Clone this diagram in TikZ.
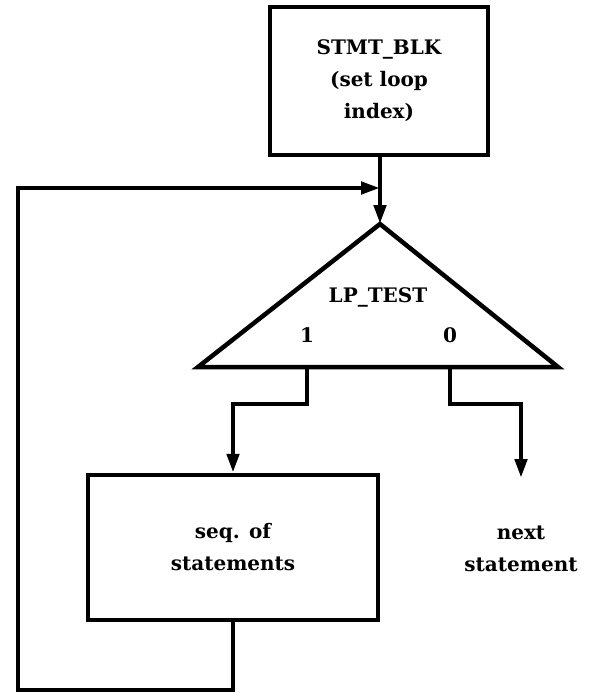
\documentclass[tikz,border=0pt]{standalone}
\usepackage{fontspec}
\setmainfont{DejaVu Serif}
\usetikzlibrary{arrows.meta}
\begin{document}
\begin{tikzpicture}[x=1pt,y=-1pt,
  line width=4.5pt, line join=miter,
  flow/.style={-{Triangle[length=19pt,width=12pt]}},
  box/.style={draw, rectangle, align=center, inner sep=0pt},
  lbl/.style={align=center, inner sep=0pt, font=\fontsize{20}{32}\selectfont\bfseries}]
  \useasboundingbox (0,0) rectangle (591,695);

  % blocks
  \node[box, lbl, minimum width=218pt, minimum height=148pt] (blk) at (379,81)
    {STMT\_BLK\\(set loop\\index)};
  \node[box, lbl, minimum width=290pt, minimum height=145pt] (seq) at (233,547.5)
    {seq. of\\statements};
  \node[lbl] (next) at (521,549) {next\\statement};

  % decision triangle
  \coordinate (apex) at (380,224);
  \coordinate (bl) at (198,367);
  \coordinate (br) at (558,367);
  \draw (apex) -- (br) -- (bl) -- cycle;
  \node[lbl] (test) at (378,297) {LP\_TEST};
  \node[lbl] (one) at (307,335) {1};
  \node[lbl] (zero) at (450,335) {0};

  % branch points on the base
  \coordinate (outT) at (307,367);
  \coordinate (outF) at (450,367);
  \coordinate (nextTop) at (521,478);
  \coordinate (join) at (380,188);

  % connectors
  \draw[flow] (blk.south -| apex) -- (apex);
  \draw[flow] (outT) -- (307,404) -| (seq.north);
  \draw[flow] (outF) -- (450,404) -| (nextTop);
  \draw[flow] (seq.south) -- (233,690) -| (18,188) -- (join);
\end{tikzpicture}
\end{document}
